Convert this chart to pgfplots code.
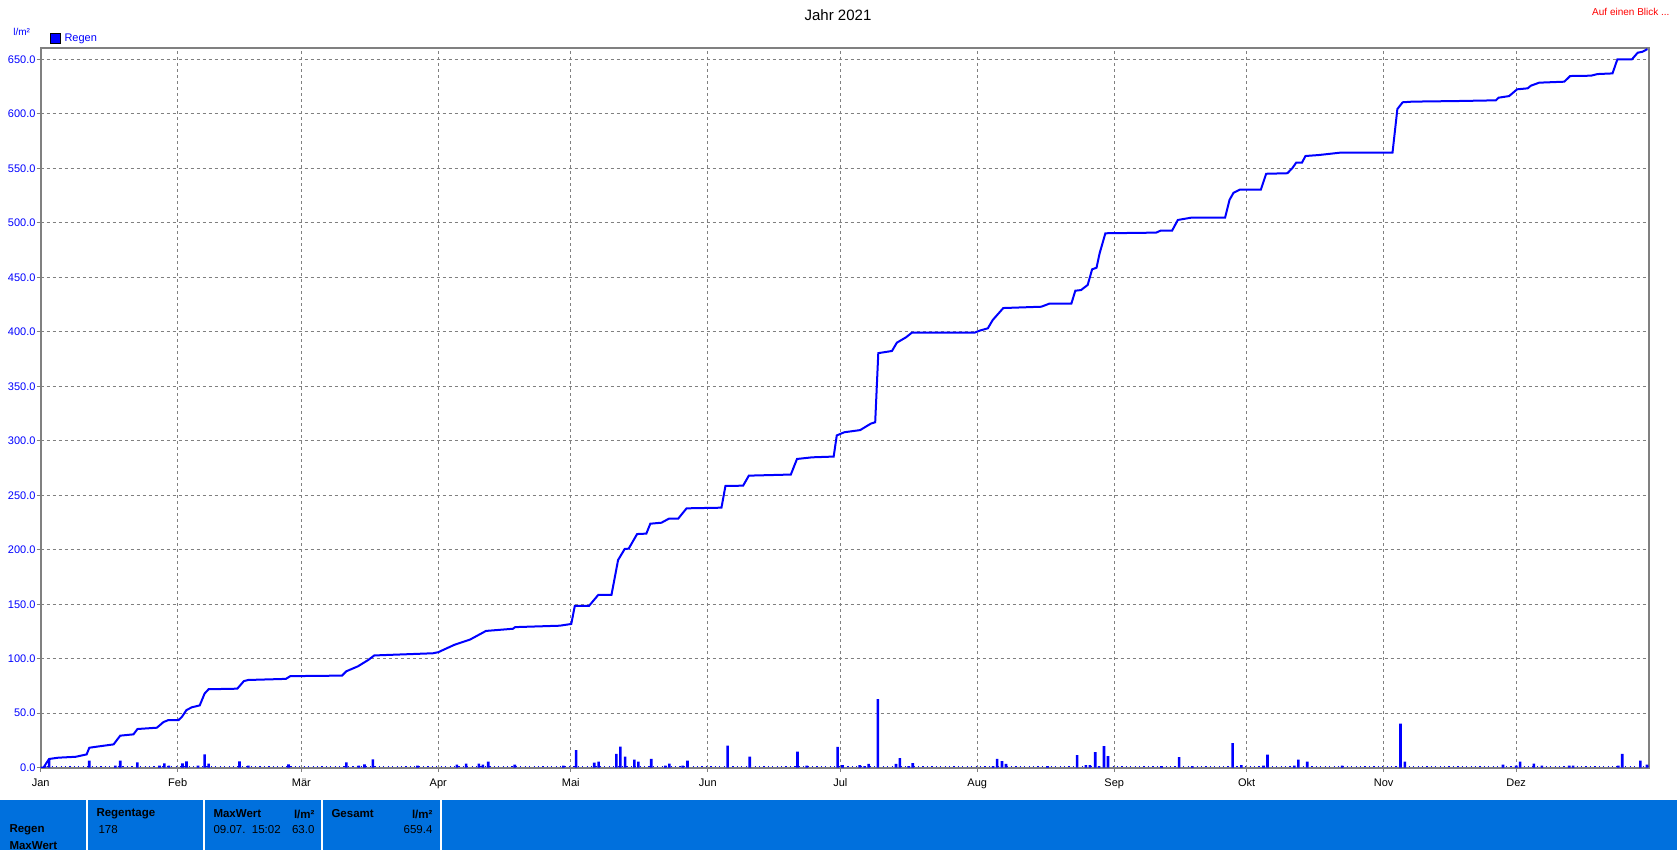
\documentclass[border=0pt]{standalone}
\usepackage{pgfplots}
\pgfplotsset{compat=1.18}
\usepackage{fontspec}
\setmainfont{Liberation Sans}

\definecolor{rblue}{RGB}{0,0,255}
\definecolor{panelblue}{RGB}{0,112,221}
\definecolor{framegray}{RGB}{128,128,128}

\begin{document}
\begin{tikzpicture}[font=\fontsize{11bp}{13bp}\selectfont]
\useasboundingbox (0,0) rectangle (1677bp,850bp);

% Kopfzeile
\node[font=\fontsize{15bp}{17bp}\selectfont] at (838bp,835bp) {Jahr 2021};
\node[anchor=east, text=red, font=\fontsize{10bp}{12bp}\selectfont] at (1673bp,838bp) {Auf einen Blick ...};
\node[text=rblue, font=\fontsize{10bp}{12bp}\selectfont] at (21.7bp,818bp) {l/m²};

\begin{axis}[
    at={(40.7bp,82.3bp)}, anchor=south west,
    scale only axis, width=1608bp, height=720bp,
    xmin=0, xmax=364, ymin=0, ymax=660.7,
    xtick={0,31,59,90,120,151,181,212,243,273,304,334},
    xticklabels={Jan,Feb,Mär,Apr,Mai,Jun,Jul,Aug,Sep,Okt,Nov,Dez},
    ytick={0,50,...,650},
    xtick pos=bottom, ytick pos=left,
    tick align=outside, major tick length=4bp,
    tick style={framegray, line width=1bp},
    axis line style={framegray, line width=2bp},
    grid=major,
    major grid style={framegray, line width=1bp, dash pattern=on 3bp off 3bp},
    y tick label style={text=rblue, inner sep=1bp},
    x tick label style={text=black, inner sep=1bp, yshift=-6bp},
    /pgf/number format/.cd, fixed, fixed zerofill, precision=1, assume math mode=true,
    /pgfplots/.cd,
    legend style={draw=none, fill=none, inner sep=0pt, outer sep=0pt,
        at={(rel axis cs:0,1)}, anchor=south west, xshift=9bp, yshift=3bp,
        text=rblue, font=\fontsize{11bp}{13bp}\selectfont,
        nodes={inner xsep=4bp}},
    legend image code/.code={\draw[fill=rblue, draw=black, line width=0.8bp] (0bp,-5bp) rectangle (10bp,5bp);},
    legend cell align=left,
]
% Nulllinie (Tage ohne Regen)
\addplot[rblue, line width=1.2bp, dash pattern=on 1.2bp off 3.22bp, forget plot]
    coordinates {(0.5,1.2) (364,1.2)};

% Tagesmengen
\addplot[ybar, bar width=2.6bp, bar shift=0pt, fill=rblue, draw=none] coordinates {
(1.0,1.5) (1.9,7.4) (11.0,6.4) (16.9,2.0) (18.0,6.4) (21.9,4.9) (26.9,1.8) (28.0,4.0)
(29.0,2.0) (32.1,4.0) (33.0,5.8) (35.6,2.0) (37.1,12.2) (38.0,3.7) (45.0,5.8) (47.0,1.8)
(56.1,3.0) (69.2,4.9) (72.0,2.0) (73.3,3.0) (75.2,7.6) (85.3,1.8) (94.2,2.8) (96.3,3.7)
(99.2,3.7) (100.1,2.8) (101.3,5.5) (107.3,2.8) (118.3,1.8) (121.2,16.2) (125.3,4.6) (126.3,5.5)
(130.3,12.8) (131.2,19.3) (132.3,10.1) (134.4,7.3) (135.3,5.5) (138.2,8.0) (141.4,1.8) (142.3,3.7)
(145.3,1.8) (146.4,6.4) (155.5,20.2) (160.5,10.1) (171.3,14.7) (173.4,1.8) (180.4,19.2) (181.5,2.4)
(185.4,2.4) (186.5,1.5) (187.4,3.4) (189.5,63.0) (193.6,3.4) (194.5,8.9) (196.5,1.5) (197.4,4.3)
(215.6,1.5) (216.5,8.0) (217.6,6.1) (218.5,3.4) (227.9,1.5) (234.6,11.6) (236.6,2.4) (237.5,2.4)
(238.7,14.4) (239.6,1.5) (240.7,19.9) (241.6,10.7) (253.7,1.5) (257.7,9.8) (260.7,1.5) (269.8,22.6)
(271.8,2.4) (276.8,1.8) (277.7,11.9) (283.8,1.8) (284.7,7.3) (286.7,5.5) (294.6,1.8) (307.8,40.4)
(308.8,5.5) (331.0,2.8) (334.0,1.8) (334.9,5.5) (338.0,3.7) (339.8,1.8) (346.0,1.8) (346.9,1.8)
(357.1,1.8) (358.0,12.8) (362.1,6.4) (363.6,2.8)
};
\addlegendentry{Regen}

% Summenkurve
\addplot[rblue, line width=2bp, forget plot] coordinates {
(0,0) (0.6,0) (1.9,8) (4,9.2) (7.9,10) (10.4,12.2) (11,18.3) (12.7,19.3) (16.5,21.4) (18,29.4)
(21,30.6) (21.9,35.5) (26.3,36.7) (27.8,41.9) (28.9,43.7) (31.2,43.7) (32,46.8) (33,52.9)
(34.2,55.4) (36,57.2) (37.1,68) (38,72) (44.5,72.5) (46,79.5) (47,80.5) (55.5,81.5) (56.5,84)
(68.2,84.5) (69.2,88.5) (71.8,93) (74.2,99) (75.5,103) (88.8,105) (90,106) (93.6,112.7)
(97.2,117.6) (100.8,125.5) (106.9,127.5) (107.4,129) (117.5,130.3) (120.1,131.9) (120.9,148.4)
(124.1,148.4) (126.2,158.5) (129.2,158.5) (130.7,190.6) (132.2,200.7) (133.1,201) (135,214.4)
(137.1,214.8) (138,223.9) (140.5,224.8) (142.2,228.5) (144.3,228.5) (146.2,238) (154.1,238.6)
(155,258.5) (159,258.8) (160.3,268) (169.8,269) (171.2,283.3) (174.6,284.8) (179.5,285.5)
(180.2,304.9) (181.9,307.8) (185.5,309.8) (187.9,315.7) (188.9,317) (189.6,380.4) (192.7,382.4)
(193.8,390) (195.9,395) (197.2,399.2) (211.4,399.2) (212.5,401) (214.4,403.2) (215.5,410.8)
(217.9,421.8) (226.5,423) (228.3,425.8) (233.3,425.8) (234.2,437.7) (235.5,438.3) (237,443)
(238,457.3) (239,458.8) (239.7,472) (241,490.4) (252.5,491) (253.5,492.8) (256.1,492.8)
(257.4,502.6) (260.4,504.7) (268.1,504.7) (269.1,521) (270,527.5) (271.4,530.4) (276.2,530.4)
(277.4,545) (282.2,545.5) (283.3,550) (284.2,555.2) (285.5,555.2) (286.3,561.3) (289.3,562.2)
(294,564.3) (306,564.3) (307.1,604.4) (308.3,610.6) (310.5,611.2) (321.5,611.8) (329.4,612.4)
(330,614.8) (332.4,616.3) (334.2,622.5) (336.6,623.4) (337.3,625.8) (339.2,628.6) (344.9,629.5)
(346.2,634.7) (350.9,635) (352.4,636.5) (355.8,637.1) (356.9,650) (360.2,650) (361.5,656.1)
(362.6,657) (363.7,659.4)
};
\end{axis}

% Statusleiste
\fill[panelblue] (0,0) rectangle (1677bp,50bp);
\foreach \xx in {87,204,322,441}
    \draw[white, line width=2bp] (\xx bp,0) -- (\xx bp,50bp);
\begin{scope}[font=\fontsize{11.5bp}{13bp}\selectfont]
\node[anchor=west, font=\bfseries\fontsize{11.5bp}{13bp}\selectfont] at (6bp,20bp) {Regen};
\node[anchor=west, font=\bfseries\fontsize{11.5bp}{13bp}\selectfont] at (6bp,4bp) {MaxWert};
\node[anchor=west, font=\bfseries\fontsize{11.5bp}{13bp}\selectfont] at (93bp,36bp) {Regentage};
\node[anchor=west] at (95bp,20bp) {178};
\node[anchor=west, font=\bfseries\fontsize{11.5bp}{13bp}\selectfont] at (210bp,36bp) {MaxWert};
\node[anchor=east, font=\bfseries\fontsize{11.5bp}{13bp}\selectfont] at (318bp,36bp) {l/m²};
\node[anchor=west] at (210bp,20bp) {09.07.\ \ 15:02};
\node[anchor=east] at (318bp,20bp) {63.0};
\node[anchor=west, font=\bfseries\fontsize{11.5bp}{13bp}\selectfont] at (328bp,36bp) {Gesamt};
\node[anchor=east, font=\bfseries\fontsize{11.5bp}{13bp}\selectfont] at (436bp,36bp) {l/m²};
\node[anchor=east] at (436bp,20bp) {659.4};
\end{scope}
\end{tikzpicture}
\end{document}
